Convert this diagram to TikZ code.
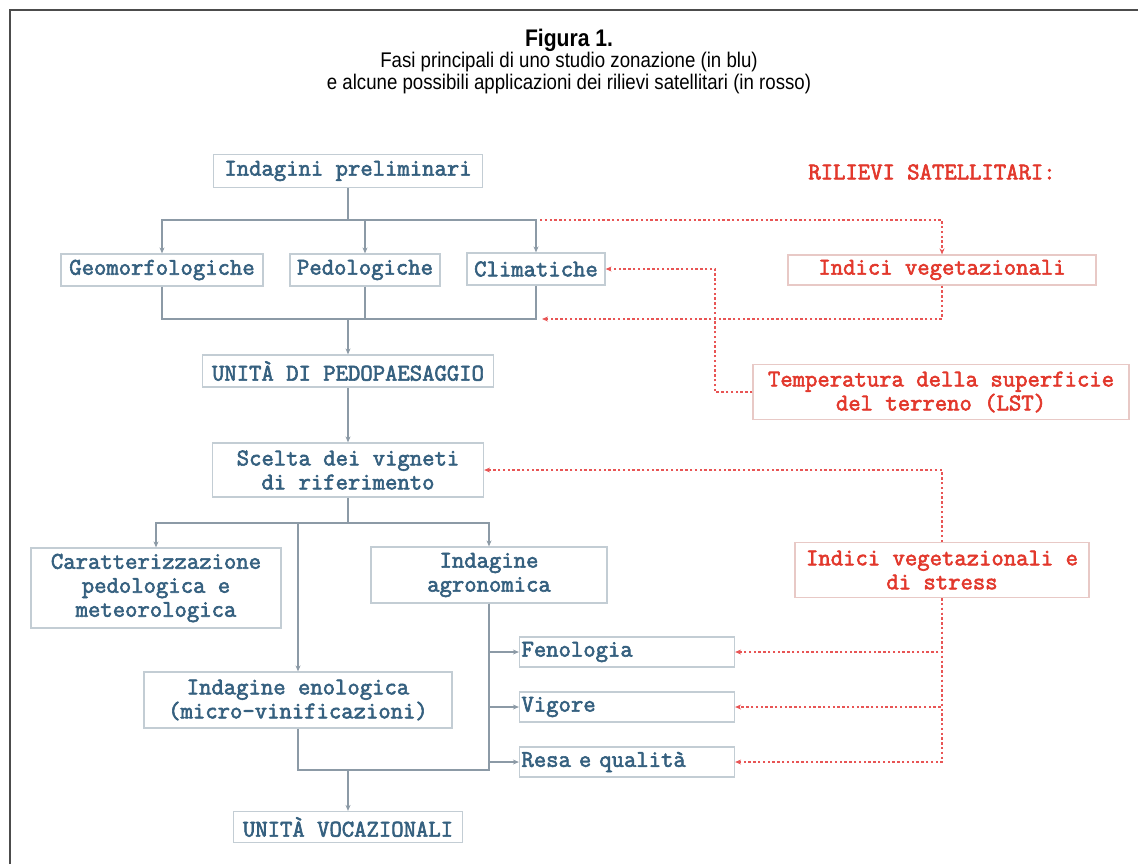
\documentclass[tikz,border=0pt]{standalone}
\usepackage{fontspec}
\newfontfamily\titlefont[FakeStretch=0.88]{Liberation Sans}
\newfontfamily\tipfont[FakeBold=2.5]{Latin Modern Mono}
\usetikzlibrary{arrows.meta}
\definecolor{zonblue}{HTML}{35607F}
\definecolor{zonline}{HTML}{8C9AA6}
\definecolor{zonedge}{HTML}{C3CDD4}
\definecolor{satred}{HTML}{E2382C}
\definecolor{satedge}{HTML}{E8C9C6}
\definecolor{satline}{HTML}{E85555}
\begin{document}
\begin{tikzpicture}
  [x=0.5pt,y=-0.5pt,
   every node/.style={font=\tipfont\fontsize{12}{12}\selectfont,inner sep=0pt},
   fase/.style={draw=zonedge,line width=0.6pt,text=zonblue,align=center},
   sat/.style={draw=satedge,line width=0.6pt,text=satred,align=center},
   blulink/.style={draw=zonline,line width=1pt},
   bluarr/.style={blulink,-{Stealth[length=3pt,width=2.5pt]}},
   satlink/.style={draw=satline,line width=0.7pt,dash pattern=on 1.2pt off 1.2pt},
   satarr/.style={satlink,-{Stealth[length=3pt,width=2.5pt]}}]
\useasboundingbox (0,0) rectangle (1138,864);
\draw[line width=1.2pt,color=black!70] (10,864) -- (10,10) -- (1138,10);

\node (titolo) at (569,40) {\titlefont\bfseries\fontsize{12}{12}\selectfont Figura 1.};
\node (sottotitolo)[align=center,font=\titlefont\fontsize{10.6}{11}\selectfont] at (569,73)
  {Fasi principali di uno studio zonazione (in blu)\\e alcune possibili applicazioni dei rilievi satellitari (in rosso)};

\node (prelim)[fase,minimum width=134.5pt,minimum height=16.5pt] at (348,171) {Indagini preliminari};
\node (rilievi)[text=satred] at (932,172) {RILIEVI SATELLITARI:};
\node (geo)[fase,minimum width=101pt,minimum height=16pt] at (162,270) {Geomorfologiche};
\node (pedo)[fase,minimum width=75pt,minimum height=16pt] at (365,270) {Pedologiche};
\node (clim)[fase,minimum width=69pt,minimum height=16pt] at (536,269) {Climatiche};
\node (indveg)[sat,minimum width=154pt,minimum height=15pt] at (942,270) {Indici vegetazionali};
\node (pedopae)[fase,minimum width=145.5pt,minimum height=16pt] at (348,371) {UNITÀ DI PEDOPAESAGGIO};
\node (lst)[sat,minimum width=188pt,minimum height=27.5pt] at (941,392) {Temperatura della superficie\\del terreno (LST)};
\node (scelta)[fase,minimum width=135.5pt,minimum height=27pt] at (348,470) {Scelta dei vigneti\\di riferimento};
\node (caratt)[fase,minimum width=125pt,minimum height=40pt] at (156,588) {Caratterizzazione\\pedologica e\\meteorologica};
\node (agro)[fase,minimum width=118pt,minimum height=28pt] at (489,575) {Indagine\\agronomica};
\node (stress)[sat,minimum width=147pt,minimum height=27.5pt] at (942,570) {Indici vegetazionali e\\di stress};
\node (feno)[fase,text width=105.5pt,align=left,inner xsep=1pt,minimum height=15pt] at (627,652) {Fenologia};
\node (vigore)[fase,text width=105.5pt,align=left,inner xsep=1pt,minimum height=15pt] at (627,707) {Vigore};
\node (resa)[fase,text width=105.5pt,align=left,inner xsep=1pt,minimum height=15pt] at (627,762) {Resa e qualità};
\node (enol)[fase,minimum width=154pt,minimum height=28pt] at (298,700) {Indagine enologica\\(micro-vinificazioni)};
\node (vocaz)[fase,minimum width=114.5pt,minimum height=15.5pt] at (348,827) {UNITÀ VOCAZIONALI};

\coordinate (jprelim) at (348,220);
\coordinate (jindagini) at (348,319);
\coordinate (jscelta) at (348,523);
\coordinate (jenol) at (298,523);
\coordinate (jvocaz) at (348,770);
\coordinate (rtop) at (540,220);
\coordinate (rjoin) at (542,319);
\coordinate (rlst) at (715,392);

% fasi dello studio
\draw[blulink] (prelim) -- (jprelim);
\draw[bluarr] (jprelim) -| (geo);
\draw[bluarr] (jprelim) -| (pedo);
\draw[bluarr] (jprelim) -| (clim);
\draw[blulink] (geo) |- (jindagini);
\draw[blulink] (pedo) |- (jindagini);
\draw[blulink] (clim) |- (jindagini);
\draw[bluarr] (jindagini) -- (pedopae);
\draw[bluarr] (pedopae) -- (scelta);
\draw[blulink] (scelta) -- (jscelta);
\draw[bluarr] (jscelta) -| (caratt);
\draw[bluarr] (jscelta) -| (agro);
\draw[bluarr] (jenol) -- (enol);
\draw[bluarr] (agro) |- (feno);
\draw[bluarr] (agro) |- (vigore);
\draw[bluarr] (agro) |- (resa);
\draw[blulink] (agro) |- (jvocaz);
\draw[blulink] (enol) |- (jvocaz);
\draw[bluarr] (jvocaz) -- (vocaz);

% rilievi satellitari
\draw[satarr] (rtop) -| (indveg);
\draw[satarr] (indveg) |- (rjoin);
\draw[satarr] (lst) -- (rlst) |- (clim);
\draw[satarr] (stress) |- (scelta);
\draw[satarr] (stress) |- (feno);
\draw[satarr] (stress) |- (vigore);
\draw[satarr] (stress) |- (resa);
\end{tikzpicture}
\end{document}
